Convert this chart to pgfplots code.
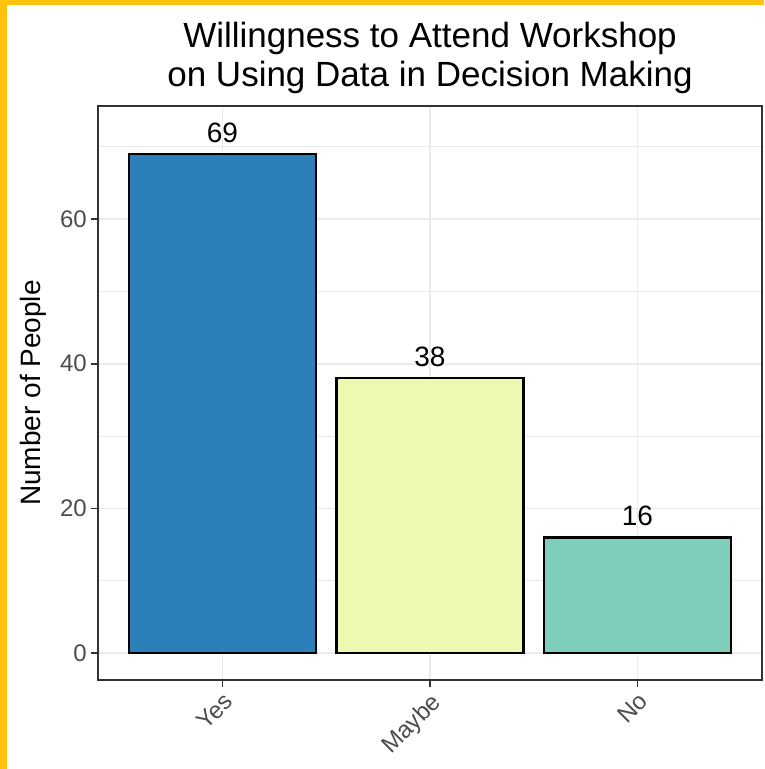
\documentclass[border=0pt]{standalone}
\usepackage{pgfplots}
\pgfplotsset{compat=1.18}
\usepackage{fontspec}
\setmainfont{Liberation Sans}
\definecolor{cyes}{HTML}{2C7FB8}
\definecolor{cmaybe}{HTML}{EDF8B1}
\definecolor{cno}{HTML}{7FCDBB}
\definecolor{gridc}{HTML}{EBEBEB}
\definecolor{frame}{HTML}{333333}
\definecolor{ticktxt}{HTML}{4D4D4D}
\definecolor{gold}{HTML}{FFC20E}
\begin{document}
\begin{tikzpicture}[x=1pt,y=1pt]
\useasboundingbox (0,0) rectangle (764,769);
\fill[white] (0,0) rectangle (764,769);
\fill[gold] (0,764) rectangle (764,769);
\fill[gold] (0,0) rectangle (7,769);
\begin{axis}[
  at={(98pt,89pt)}, anchor=south west,
  width=664pt, height=574pt, scale only axis,
  xmin=0.4, xmax=3.6, ymin=-3.7, ymax=75.6,
  xtick={1,2,3}, xticklabels={Yes,Maybe,No},
  ytick={0,20,40,60}, minor ytick={10,30,50,70},
  grid=both,
  major grid style={draw=gridc, line width=1.8pt},
  minor grid style={draw=gridc, line width=0.9pt},
  axis line style={draw=frame, line width=1.8pt},
  tick align=outside, major tick length=7pt, minor tick length=0pt,
  tick style={draw=frame, line width=1.8pt},
  xtick pos=bottom, ytick pos=left,
  /pgf/number format/assume math mode=true,
  ticklabel style={font=\fontsize{24}{28}\selectfont, text=ticktxt},
  yticklabel style={inner sep=4pt},
  xticklabel style={rotate=45, anchor=north east, inner sep=3pt},
  ylabel={Number of People},
  ylabel style={font=\fontsize{28}{33}\selectfont, at={(axis description cs:-0.098,0.5)}, anchor=center},
  title={Willingness to Attend Workshop\\on Using Data in Decision Making},
  title style={font=\fontsize{35}{39}\selectfont, align=center, at={(axis description cs:0.5,1.074)}, anchor=center},
  ybar, bar width=0.9, bar shift=0pt,
  nodes near coords,
  nodes near coords style={font=\fontsize{28}{33}\selectfont, text=black, anchor=south, inner sep=0pt, yshift=10pt},
  clip=false,
]
\addplot[fill=cyes, draw=black, line width=2.3pt] coordinates {(1,69)};
\addplot[fill=cmaybe, draw=black, line width=2.3pt] coordinates {(2,38)};
\addplot[fill=cno, draw=black, line width=2.3pt] coordinates {(3,16)};
\end{axis}
\end{tikzpicture}
\end{document}
